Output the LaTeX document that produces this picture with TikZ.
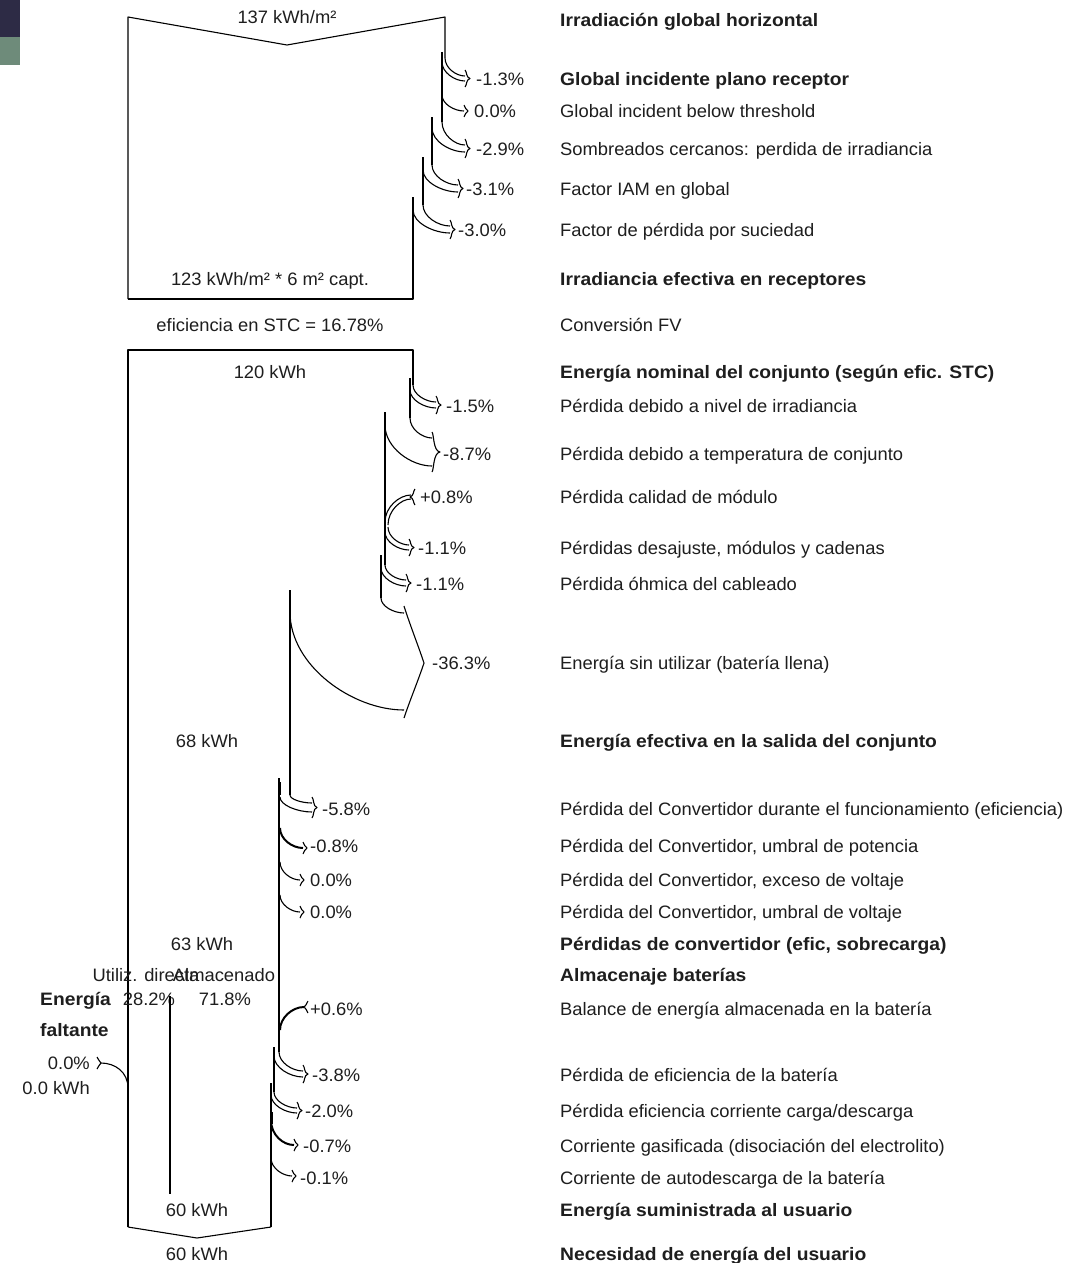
\documentclass[tikz,border=0pt]{standalone}
\usepackage{fontspec}
\setmainfont{Liberation Sans}[UprightFeatures={FakeStretch=1.02},BoldFeatures={FakeStretch=1.07}]
\definecolor{txt}{HTML}{1E1E1E}
\definecolor{cornA}{HTML}{2D2B45}
\definecolor{cornB}{HTML}{6E8B7A}
\newcommand\crv[4]{\draw[ln] (#1,#2) .. controls (#1,{#2+0.55*(#4-#2)}) and ({#1+0.55*(#3-#1)},#4) .. (#3,#4);}
% brace-like head pointing right: xe ytop ybot depth
\newcommand\hdR[4]{\draw[ln] (#1,{#2-6}) .. controls ({#1+2},{#2-4}) and ({#1+1},{(#2+#3)/2-1}) .. ({#1+#4},{(#2+#3)/2}) .. controls ({#1+1},{(#2+#3)/2+1}) and ({#1+2},{#3+4}) .. (#1,{#3+6});}
% head pointing left (gain)
\newcommand\hdL[4]{\draw[ln] ({#1+#4},{#2-6}) .. controls ({#1+#4-2},{#2-4}) and ({#1+#4-1},{(#2+#3)/2-1}) .. (#1,{(#2+#3)/2}) .. controls ({#1+#4-1},{(#2+#3)/2+1}) and ({#1+#4-2},{#3+4}) .. ({#1+#4},{#3+6});}
% loss arrow: xold yu xnew yl xe yt yb depth
\newcommand\lossarr[8]{\crv{#1}{#2}{#5}{#6}\crv{#3}{#4}{#5}{#7}\hdR{#5}{#6}{#7}{#8}}
\begin{document}
\begin{tikzpicture}[x=1pt,y=-1pt,
  ln/.style={line width=1.1pt, black, line join=round},
  thk/.style={line width=2.2pt, black},
  lbl/.style={inner sep=0pt, text height=13pt, text depth=0pt, font=\fontsize{18}{20}\selectfont, text=txt},
  lw/.style={lbl, anchor=west},
  le/.style={lbl, anchor=east},
  lb/.style={lw, font=\fontsize{18}{20}\selectfont\bfseries},
  lc/.style={lbl, anchor=center}]
\fill[white] (0,0) rectangle (1076,1263);
\useasboundingbox (0,0) rectangle (1076,1263);
\fill[cornA] (0,0) rectangle (20,37);
\fill[cornB] (0,37) rectangle (20,65);

% ---------- top block ----------
\draw[ln] (128,299) -- (128,17) -- (287,45) -- (445,17) -- (445,58);
\draw[ln] (442,52) -- (442,122);
\draw[ln] (432,117) -- (432,165);
\draw[ln] (423,157) -- (423,205);
\draw[ln] (413,197) -- (413,299) -- (128,299);
\lossarr{445}{58}{442}{62}{465}{76}{81}{5}
\crv{442}{95}{464}{111}\hdR{464}{111}{111}{4}
\lossarr{442}{122}{432}{128}{465}{145}{152}{5}
\lossarr{432}{165}{423}{170}{458}{185}{192}{5}
\lossarr{423}{205}{413}{210}{450}{226}{233}{5}
\node[lc] (t137) at (287,17) {137 kWh/m²};
\node[lc] (t123) at (270,279) {123 kWh/m² * 6 m² capt.};
\node[lc] (teff) at (270,325) {eficiencia en STC = 16.78\%};
\node[lw] (p1) at (476,79) {-1.3\%};
\node[lw] (p2) at (474,111) {0.0\%};
\node[lw] (p3) at (476,149) {-2.9\%};
\node[lw] (p4) at (466,189) {-3.1\%};
\node[lw] (p5) at (458,230) {-3.0\%};

% ---------- array block ----------
\draw[ln] (128,1227) -- (128,350) -- (413,350) -- (413,385);
\draw[ln] (410,378) -- (410,418);
\draw[ln] (385,412) -- (385,565);
\draw[ln] (381,555) -- (381,598);
\draw[ln] (290,590) -- (290,795);
\draw[thk] (290,602) -- (290,613);
\lossarr{413}{385}{410}{390}{436}{402}{408}{5}
\lossarr{410}{418}{385}{425}{432}{438}{466}{8}
% gain +0.8
\crv{385}{522}{411}{495}\crv{388}{525}{411}{499}\hdL{410}{495}{499}{5}
\lossarr{388}{527}{385}{532}{409}{545}{550}{5}
\lossarr{385}{565}{381}{568}{406}{580}{586}{5}
% -36.3
\crv{381}{598}{404}{613}
\crv{290}{612}{404}{710}
\draw[ln] (404,606) .. controls (410,625) and (418,645) .. (424,663) .. controls (418,681) and (410,700) .. (404,718);
\node[lc] (t120) at (270,372) {120 kWh};
\node[lw] (q1) at (446,406) {-1.5\%};
\node[lw] (q2) at (443,454) {-8.7\%};
\node[lw] (q3) at (420,497) {+0.8\%};
\node[lw] (q4) at (418,548) {-1.1\%};
\node[lw] (q5) at (416,584) {-1.1\%};
\node[lw] (q6) at (432,663) {-36.3\%};
\node[lc] (t68) at (207,741) {68 kWh};

% ---------- converter ----------
\draw[ln] (279,778) -- (279,1052);
\draw[thk] (280,782) -- (280,795);
\lossarr{290}{795}{280}{797}{312}{803}{812}{5}
\draw[line width=2pt] (280,828) .. controls (280,839) and (292,848) .. (303,848);
\hdR{303}{848}{848}{4}
\crv{280}{862}{300}{880}\hdR{300}{880}{880}{4}
\crv{280}{895}{300}{912}\hdR{300}{912}{912}{4}
\node[lw] (r1) at (322,809) {-5.8\%};
\node[lw] (r2) at (310,846) {-0.8\%};
\node[lw] (r3) at (310,880) {0.0\%};
\node[lw] (r4) at (310,912) {0.0\%};
\node[lc] (t63) at (202,944) {63 kWh};

% ---------- battery ----------
\node[lc] (tu) at (146,975) {Utiliz. directa};
\node[lc] (ta) at (224,975) {Almacenado};
\node[lc] (tu2) at (149,999) {28.2\%};
\node[lc] (ta2) at (225,999) {71.8\%};
\draw[ln] (170,996) -- (170,1194);
\node[lb] (ef1) at (40,999) {Energía};
\node[lb] (ef2) at (40,1030) {faltante};
\node[le] (ef3) at (90,1063) {0.0\%};
\node[le] (ef4) at (90,1088) {0.0 kWh};
\draw[ln] (128,1088) .. controls (128,1072) and (115,1063) .. (101,1063);
\draw[ln] (97,1057) .. controls (99,1059) and (99,1062) .. (101,1063) .. controls (99,1064) and (99,1067) .. (97,1069);
\draw[thk] (128,1080) -- (128,1092);
% gain +0.6
\draw[line width=2pt] (280,1030) .. controls (280,1018) and (292,1007) .. (304,1007);
\hdL{303}{1007}{1007}{5}
\draw[ln] (274,1047) -- (274,1092);
\draw[ln] (271,1083) -- (271,1227);
\lossarr{279}{1052}{274}{1056}{303}{1071}{1077}{5}
\lossarr{274}{1092}{271}{1095}{297}{1108}{1113}{5}
\draw[thk] (272,1112) -- (272,1124);
\draw[line width=2pt] (271,1120) .. controls (271,1135) and (283,1145) .. (294,1145);
\hdR{294}{1145}{1145}{4}
\crv{271}{1158}{292}{1176}\hdR{292}{1176}{1176}{4}
\node[lw] (s1) at (310,1009) {+0.6\%};
\node[lw] (s2) at (312,1075) {-3.8\%};
\node[lw] (s3) at (305,1111) {-2.0\%};
\node[lw] (s4) at (303,1146) {-0.7\%};
\node[lw] (s5) at (300,1178) {-0.1\%};
\draw[ln] (128,1227) -- (197,1238) -- (271,1227);
\node[lc] (t60a) at (197,1210) {60 kWh};
\node[lc] (t60b) at (197,1254) {60 kWh};

% ---------- right column ----------
\node[lb] (L1) at (560,20) {Irradiación global horizontal};
\node[lb] (L2) at (560,79) {Global incidente plano receptor};
\node[lw] (L3) at (560,111) {Global incident below threshold};
\node[lw] (L4) at (560,149) {Sombreados cercanos: perdida de irradiancia};
\node[lw] (L5) at (560,189) {Factor IAM en global};
\node[lw] (L6) at (560,230) {Factor de pérdida por suciedad};
\node[lb] (L7) at (560,279) {Irradiancia efectiva en receptores};
\node[lw] (L8) at (560,325) {Conversión FV};
\node[lb] (L9) at (560,372) {Energía nominal del conjunto (según efic. STC)};
\node[lw] (L10) at (560,406) {Pérdida debido a nivel de irradiancia};
\node[lw] (L11) at (560,454) {Pérdida debido a temperatura de conjunto};
\node[lw] (L12) at (560,497) {Pérdida calidad de módulo};
\node[lw] (L13) at (560,548) {Pérdidas desajuste, módulos y cadenas};
\node[lw] (L14) at (560,584) {Pérdida óhmica del cableado};
\node[lw] (L15) at (560,663) {Energía sin utilizar (batería llena)};
\node[lb] (L16) at (560,741) {Energía efectiva en la salida del conjunto};
\node[lw] (L17) at (560,809) {Pérdida del Convertidor durante el funcionamiento (eficiencia)};
\node[lw] (L18) at (560,846) {Pérdida del Convertidor, umbral de potencia};
\node[lw] (L19) at (560,880) {Pérdida del Convertidor, exceso de voltaje};
\node[lw] (L20) at (560,912) {Pérdida del Convertidor, umbral de voltaje};
\node[lb] (L21) at (560,944) {Pérdidas de convertidor (efic, sobrecarga)};
\node[lb] (L22) at (560,975) {Almacenaje baterías};
\node[lw] (L23) at (560,1009) {Balance de energía almacenada en la batería};
\node[lw] (L24) at (560,1075) {Pérdida de eficiencia de la batería};
\node[lw] (L25) at (560,1111) {Pérdida eficiencia corriente carga/descarga};
\node[lw] (L26) at (560,1146) {Corriente gasificada (disociación del electrolito)};
\node[lw] (L27) at (560,1178) {Corriente de autodescarga de la batería};
\node[lb] (L28) at (560,1210) {Energía suministrada al usuario};
\node[lb] (L29) at (560,1254) {Necesidad de energía del usuario};
\end{tikzpicture}
\end{document}
